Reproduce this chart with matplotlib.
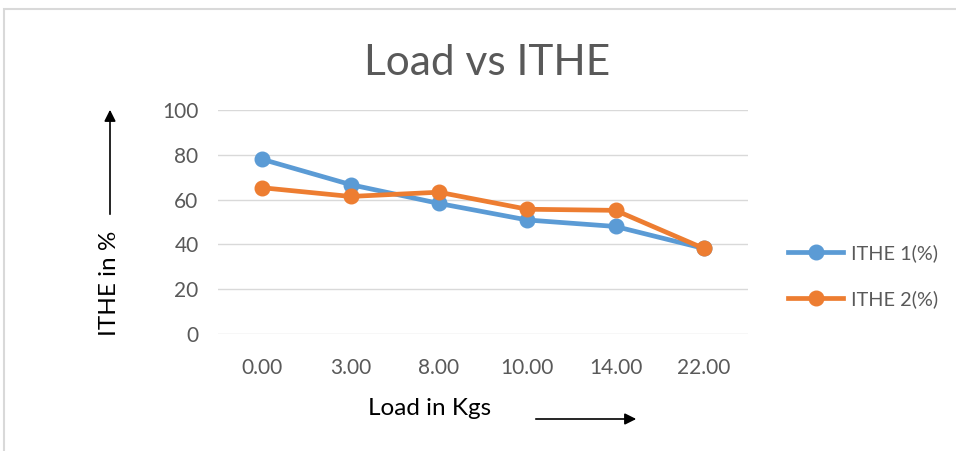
import matplotlib
matplotlib.use("Agg")
import matplotlib.pyplot as plt
from matplotlib.patches import Rectangle, FancyArrowPatch

categories = ["0.00", "3.00", "8.00", "10.00", "14.00", "22.00"]
ithe1 = [78.0, 66.7, 58.3, 50.9, 48.0, 38.2]
ithe2 = [65.3, 61.4, 63.3, 55.7, 55.2, 38.2]
series_names = ["ITHE 1(%)", "ITHE 2(%)"]
yticks = [0, 20, 40, 60, 80, 100]

plt.rcParams['font.family'] = ['Lato', 'DejaVu Sans']

W, H = 956, 451
fig = plt.figure(figsize=(W/100, H/100), dpi=100)

# chart frame (only top and left visible)
fig.patches.append(Rectangle((4/W, -0.1), 1.2, 1 - 9/H + 0.1, transform=fig.transFigure,
                             fill=False, edgecolor='#D9D9D9', linewidth=1.5))

ax = fig.add_axes([218/W, 1 - 334/H, (748-218)/W, (334-110)/H])
x = list(range(len(categories)))
blue = '#5B9BD5'
orange = '#ED7D31'
ax.plot(x, ithe1, color=blue, lw=3.4, marker='o', ms=10.5, label=series_names[0], zorder=3)
ax.plot(x, ithe2, color=orange, lw=3.4, marker='o', ms=10.5, label=series_names[1], zorder=4)

ax.set_xlim(-0.5, len(categories) - 0.5)
ax.set_ylim(0, 100)
ax.set_yticks(yticks)
ax.set_xticks(x)
ax.set_xticklabels(categories)
ax.grid(axis='y', color='#D9D9D9', lw=1)
ax.set_axisbelow(True)
for s in ax.spines.values():
    s.set_visible(False)
ax.tick_params(length=0, colors='#595959', labelsize=15)
ax.tick_params(axis='x', pad=17)
ax.tick_params(axis='y', pad=14)

fig.text(487/W, 1 - 75/H, "Load vs ITHE", ha='center', va='baseline', fontsize=30.5, color='#595959')

# axis labels with arrows
fig.text(110/W, 1 - 283/H, "ITHE in %", rotation=90, ha='center', va='center', fontsize=17.5, color='black')
fig.patches.append(FancyArrowPatch((110/W, 1 - 217/H), (110/W, 1 - 107/H), transform=fig.transFigure,
                                   arrowstyle='-|>', mutation_scale=17, color='black', lw=1.2))
fig.text(430/W, 1 - 415/H, "Load in Kgs", ha='center', va='baseline', fontsize=17.5, color='black')
fig.patches.append(FancyArrowPatch((533/W, 1 - 419/H), (639/W, 1 - 419/H), transform=fig.transFigure,
                                   arrowstyle='-|>', mutation_scale=17, color='black', lw=1.2))

leg = fig.legend(loc='center left', bbox_to_anchor=(770/W, 1 - 276/H), frameon=False,
                 fontsize=14.3, labelspacing=1.4, handlelength=2.8, handletextpad=0.4)
for t in leg.get_texts():
    t.set_color('#595959')

fig.savefig("out.png", dpi=100)
